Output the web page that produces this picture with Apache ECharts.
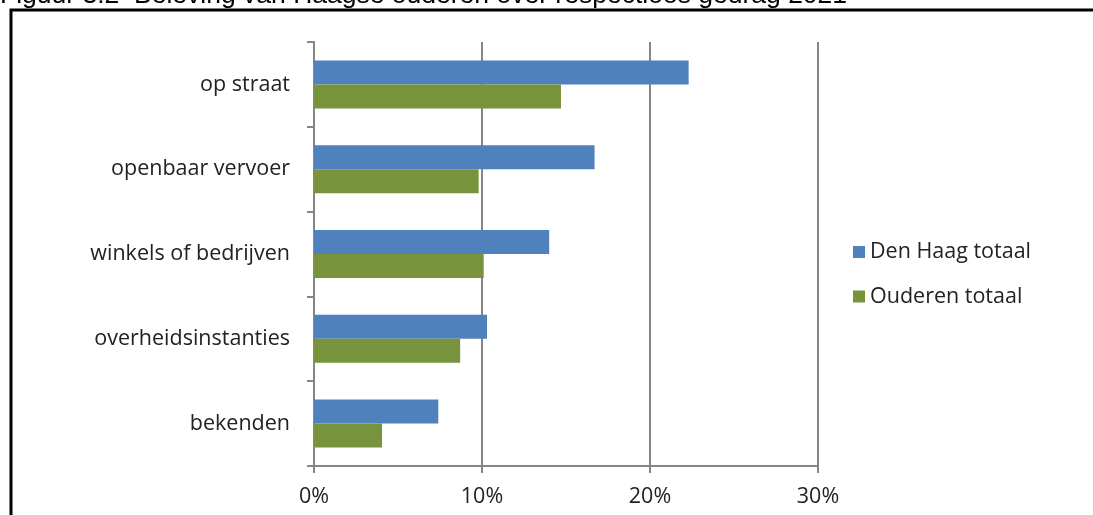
<!DOCTYPE html>
<html>
<head>
<meta charset="utf-8">
<script src="https://cdn.jsdelivr.net/npm/echarts@6/dist/echarts.min.js"></script>
<style>
html,body{margin:0;padding:0;background:#fff;}
#c{width:1093px;height:515px;}
</style>
</head>
<body>
<div id="c"></div>
<script>
const titleText = 'Figuur 3.2  Beleving van Haagse ouderen over respectloos gedrag 2021';
const categories = ['op straat', 'openbaar vervoer', 'winkels of bedrijven', 'overheidsinstanties', 'bekenden'];
const seriesNames = ['Den Haag totaal', 'Ouderen totaal'];
const denHaag = [22.3, 16.7, 14.0, 10.3, 7.4];
const ouderen = [14.7, 9.8, 10.1, 8.7, 4.05];
const xTicks = [0, 10, 20, 30];

const chart = echarts.init(document.getElementById('c'), null, {renderer: 'canvas'});
const font = '"Open Sans", sans-serif';
const fs = 21.5;
const axisGray = '#868686';
chart.setOption({
  animation: false,
  backgroundColor: '#fff',
  graphic: [
    {type: 'rect', shape: {x: 11, y: 10, width: 1200, height: 600}, style: {fill: 'none', stroke: '#000', lineWidth: 3}, z: 100},
    {type: 'text', left: 0, top: -18, style: {text: titleText, font: '26.5px "Liberation Sans", Arial, sans-serif', fill: '#000'}, z: 100}
  ],
  legend: {
    orient: 'vertical',
    left: 848,
    top: 236,
    itemWidth: 12,
    itemHeight: 12,
    itemGap: 22.5,
    icon: 'rect',
    textStyle: {fontFamily: font, fontSize: fs, color: '#222'},
    data: seriesNames
  },
  grid: {left: 314, right: 275, top: 42, bottom: 49, containLabel: false},
  xAxis: {
    type: 'value',
    min: xTicks[0],
    max: xTicks[xTicks.length - 1],
    interval: 10,
    axisLine: {show: true, lineStyle: {color: axisGray, width: 2}},
    axisTick: {show: true, length: 7, lineStyle: {color: axisGray, width: 2}},
    splitLine: {show: true, lineStyle: {color: axisGray, width: 2}},
    axisLabel: {formatter: '{value}%', fontFamily: font, fontSize: fs, color: '#222', margin: 20}
  },
  yAxis: {
    type: 'category',
    data: categories,
    inverse: true,
    axisLine: {show: true, lineStyle: {color: axisGray, width: 2}},
    axisTick: {show: true, length: 7, lineStyle: {color: axisGray, width: 2}},
    axisLabel: {fontFamily: font, fontSize: fs, color: '#222', margin: 24}
  },
  series: [
    {name: seriesNames[0], type: 'bar', data: denHaag, barWidth: 24, barGap: '0%', itemStyle: {color: '#4F81BD'}},
    {name: seriesNames[1], type: 'bar', data: ouderen, barWidth: 24, barGap: '0%', itemStyle: {color: '#77933C'}}
  ]
});
</script>
</body>
</html>
